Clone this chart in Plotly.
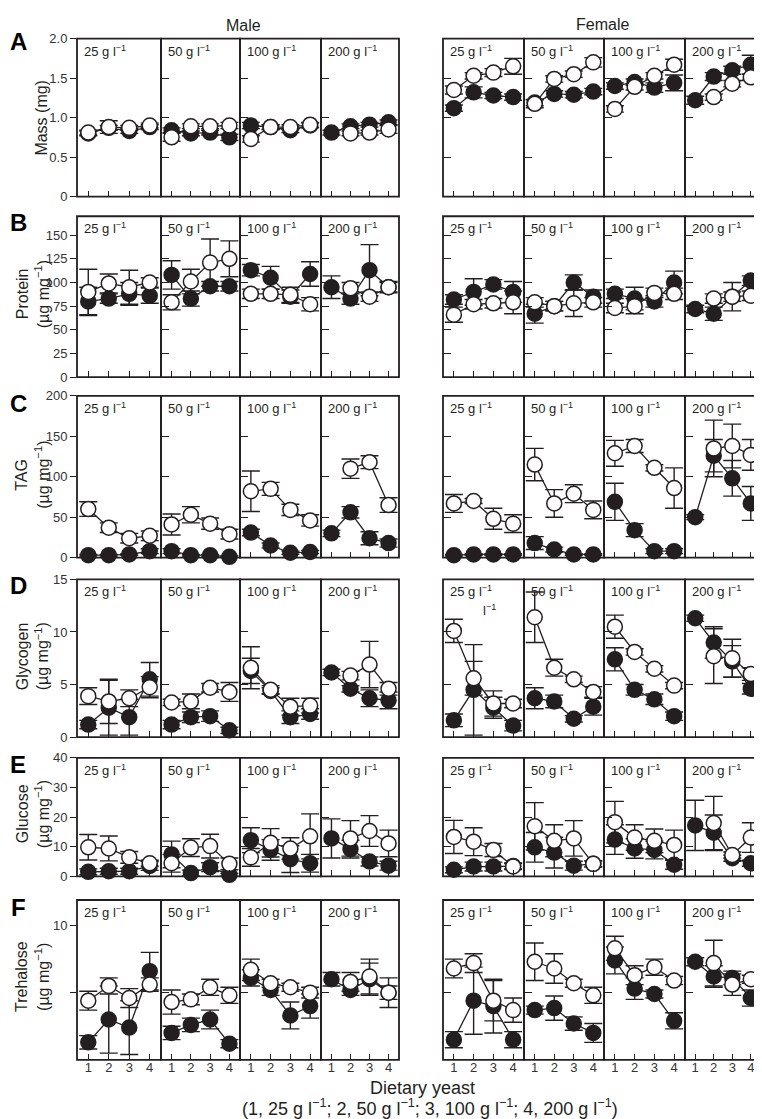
import plotly.graph_objects as go

W, H = 762, 1119
diet = [1, 2, 3, 4]
concs = ["25", "50", "100", "200"]
xtick_labels = ["1", "2", "3", "4"]

# ---------------- Row A: Mass (mg) ----------------
mass_m_filled = [[0.80, 0.87, 0.83, 0.88], [0.84, 0.80, 0.81, 0.75], [0.90, 0.88, 0.84, 0.90], [0.81, 0.89, 0.91, 0.94]]
mass_m_filled_err = [[0.03, 0.03, 0.03, 0.03], [0.03, 0.03, 0.03, 0.04], [0.04, 0.03, 0.03, 0.03], [0.03, 0.03, 0.03, 0.03]]
mass_m_open = [[0.81, 0.88, 0.87, 0.90], [0.75, 0.89, 0.89, 0.90], [0.73, 0.88, 0.88, 0.91], [None, 0.80, 0.81, 0.85]]
mass_m_open_err = [[0.03, 0.08, 0.03, 0.03], [0.05, 0.03, 0.03, 0.04], [0.04, 0.03, 0.03, 0.03], [0, 0.03, 0.03, 0.05]]
mass_f_filled = [[1.12, 1.32, 1.28, 1.26], [1.19, 1.30, 1.29, 1.33], [1.40, 1.45, 1.38, 1.44], [1.22, 1.52, 1.60, 1.67]]
mass_f_filled_err = [[0.04, 0.07, 0.04, 0.04], [0.04, 0.04, 0.04, 0.04], [0.04, 0.04, 0.06, 0.10], [0.05, 0.05, 0.05, 0.12]]
mass_f_open = [[1.35, 1.53, 1.57, 1.65], [1.175, 1.49, 1.55, 1.70], [1.11, 1.39, 1.53, 1.67], [None, 1.26, 1.43, 1.51]]
mass_f_open_err = [[0.05, 0.04, 0.05, 0.10], [0.05, 0.04, 0.04, 0.06], [0.04, 0.04, 0.04, 0.07], [0, 0.04, 0.04, 0.04]]

# ---------------- Row B: Protein ----------------
prot_m_filled = [[80, 83, 88, 86], [108, 83, 96, 96], [113, 105, 85, 109], [95, 83, 113, 95]]
prot_m_filled_err = [[15, 5, 12, 8], [15, 8, 5, 5], [6, 12, 7, 13], [12, 6, 27, 5]]
prot_m_open = [[90, 99, 95, 100], [79, 101, 121, 125], [88, 88, 87, 77], [None, 94, 85, 95]]
prot_m_open_err = [[24, 10, 18, 5], [8, 13, 25, 19], [5, 5, 8, 7], [0, 6, 5, 6]]
prot_f_filled = [[82, 90, 98, 90], [67, 75, 100, 85], [88, 83, 80, 100], [72, 67, 85, 102]]
prot_f_filled_err = [[5, 14, 5, 11], [10, 5, 8, 7], [5, 12, 6, 12], [4, 7, 5, 5]]
prot_f_open = [[66, 77, 78, 79], [79, 75, 78, 79], [73, 75, 89, 88], [None, 83, 85, 86]]
prot_f_open_err = [[8, 5, 5, 12], [5, 5, 14, 5], [5, 8, 5, 6], [0, 5, 15, 5]]

# ---------------- Row C: TAG ----------------
tag_m_filled = [[3, 3, 4, 8], [8, 3, 3, 1], [31, 15, 6, 7], [30, 56, 24, 18]]
tag_m_filled_err = [[1, 1, 1, 3], [3, 1, 1, 1], [4, 3, 2, 2], [4, 7, 8, 5]]
tag_m_open = [[60, 37, 24, 27], [41, 53, 42, 29], [82, 85, 59, 46], [None, 110, 118, 65]]
tag_m_open_err = [[9, 6, 6, 6], [13, 10, 7, 6], [25, 8, 7, 7], [0, 12, 8, 9]]
tag_f_filled = [[3, 4, 4, 4], [18, 10, 4, 4], [69, 34, 8, 8], [50, 126, 98, 67]]
tag_f_filled_err = [[1, 1, 1, 1], [8, 3, 1, 1], [23, 8, 3, 3], [3, 20, 22, 21]]
tag_f_open = [[67, 70, 48, 42], [115, 67, 79, 59], [129, 138, 111, 86], [None, 135, 138, 127]]
tag_f_open_err = [[11, 3, 13, 11], [20, 17, 11, 11], [16, 8, 4, 25], [0, 35, 27, 19]]

# ---------------- Row D: Glycogen ----------------
gly_m_filled = [[1.2, 2.8, 1.9, 5.5], [1.2, 1.9, 2.0, 0.65], [6.3, 4.4, 1.9, 2.2], [6.15, 4.6, 3.7, 3.5]]
gly_m_filled_err = [[0.4, 2.6, 1.7, 1.6], [0.4, 0.5, 0.5, 0.3], [1.2, 0.3, 0.6, 0.5], [0.3, 0.3, 0.8, 0.8]]
gly_m_open = [[3.9, 3.4, 3.7, 4.75], [3.3, 3.4, 4.7, 4.3], [6.6, 4.5, 2.9, 3.0], [None, 5.85, 6.9, 4.6]]
gly_m_open_err = [[0.8, 2.1, 0.8, 1.0], [0.3, 0.7, 0.4, 0.9], [2.0, 0.4, 0.8, 0.7], [0, 0.4, 2.2, 0.6]]
gly_f_filled = [[1.6, 4.5, 2.8, 1.1], [3.7, 3.4, 1.75, 2.9], [7.4, 4.5, 3.6, 2.0], [11.3, 9.0, 7.2, 4.6]]
gly_f_filled_err = [[0.6, 4.3, 1.0, 0.5], [1.0, 0.6, 0.3, 0.8], [1.1, 0.5, 0.5, 0.4], [0.3, 1.5, 1.5, 0.5]]
gly_f_open = [[10.1, 5.6, 3.2, 3.2], [11.4, 6.6, 5.5, 4.3], [10.5, 8.1, 6.5, 4.9], [None, 7.7, 7.5, 6.0]]
gly_f_open_err = [[1.1, 1.6, 1.2, 0.4], [2.4, 0.8, 0.3, 0.5], [1.1, 0.3, 0.3, 0.3], [0, 2.6, 1.8, 0.6]]

# ---------------- Row E: Glucose ----------------
glu_m_filled = [[1.5, 1.7, 1.7, 3.5], [7.4, 1.1, 3.1, 0.5], [12.2, 8.9, 5.8, 4.4], [12.8, 9.2, 5.0, 3.6]]
glu_m_filled_err = [[1, 1, 1, 1.5], [4.5, 1, 1.5, 0.5], [4.2, 3.5, 4.5, 3], [6.6, 3, 1.5, 1.5]]
glu_m_open = [[9.8, 9.4, 6.4, 4.4], [4.4, 9.7, 10.2, 4.2], [6.4, 11.3, 9.4, 13.5], [None, 12.8, 15.3, 11.1]]
glu_m_open_err = [[4.3, 4.2, 2.0, 1.0], [3.0, 3.0, 4.0, 2.0], [3.0, 4.8, 3.6, 7.6], [0, 6.0, 5.2, 4.5]]
glu_f_filled = [[2.2, 3.3, 3.3, 3.5], [9.8, 8.0, 3.6, 4.2], [12.4, 9.4, 8.9, 3.9], [17.2, 14.7, 6.1, 4.4]]
glu_f_filled_err = [[1, 1.5, 1.5, 1], [5, 5.2, 1.5, 1], [5, 3.3, 3, 1.5], [8.5, 6, 1, 1]]
glu_f_open = [[13.3, 11.7, 8.9, 3.3], [16.9, 12.0, 12.8, 4.2], [18.3, 13.1, 12.0, 10.6], [None, 18.0, 7.2, 13.1]]
glu_f_open_err = [[5.6, 4.7, 2.2, 1.0], [8.0, 5.4, 6.0, 1.0], [7.0, 4.3, 4.0, 5.0], [0, 9.0, 1.0, 5.0]]

# ---------------- Row F: Trehalose ----------------
tre_m_filled = [[1.3, 3.0, 2.4, 6.6], [2.0, 2.6, 3.0, 1.2], [6.1, 5.2, 3.3, 4.0], [6.0, 5.2, 6.0, 5.0]]
tre_m_filled_err = [[0.5, 2.5, 2.0, 1.4], [0.5, 0.5, 0.7, 0.3], [0.6, 0.4, 1.0, 0.9], [0.5, 0.4, 1.2, 0.5]]
tre_m_open = [[4.4, 5.5, 4.6, 5.6], [4.3, 4.5, 5.4, 4.8], [6.7, 5.7, 5.4, 5.0], [None, 5.8, 6.2, 5.0]]
tre_m_open_err = [[0.7, 0.6, 0.7, 0.5], [0.9, 0.4, 0.6, 0.6], [0.8, 0.3, 0.3, 0.4], [0, 0.7, 1.3, 1.1]]
tre_f_filled = [[1.5, 4.4, 4.0, 1.5], [3.7, 3.85, 2.7, 2.0], [7.4, 5.3, 4.9, 2.9], [7.3, 6.2, 6.1, 4.6]]
tre_f_filled_err = [[0.6, 2.5, 2.0, 0.6], [0.3, 0.9, 0.5, 0.7], [1.0, 0.8, 0.3, 0.6], [0.3, 0.8, 0.5, 0.6]]
tre_f_open = [[6.8, 7.2, 4.4, 3.7], [7.3, 6.8, 5.7, 4.8], [8.3, 6.3, 6.9, 5.9], [None, 7.2, 5.6, 6.0]]
tre_f_open_err = [[0.7, 0.7, 1.5, 0.9], [1.4, 1.1, 0.3, 0.6], [0.9, 0.7, 0.6, 0.3], [0, 1.7, 0.8, 0.3]]

row_letters = ["A", "B", "C", "D", "E", "F"]
row_title1 = ["Mass (mg)", "Protein", "TAG", "Glycogen", "Glucose", "Trehalose"]
row_title2 = [None, "(µg mg<sup>−1</sup>)", "(µg mg<sup>−1</sup>)", "(µg mg<sup>−1</sup>)",
              "(µg mg<sup>−1</sup>)", "(µg mg<sup>−1</sup>)"]
y_ranges = [[0, 2], [0, 170], [0, 200], [0, 15], [0, 40], [0, 11.9]]
y_tickvals = [[0, 0.5, 1, 1.5, 2], [0, 25, 50, 75, 100, 125, 150], [0, 50, 100, 150, 200],
              [0, 5, 10, 15], [0, 10, 20, 30, 40], [5, 10]]
y_ticktext = [["0", "0.5", "1.0", "1.5", "2.0"], ["0", "25", "50", "75", "100", "125", "150"],
              ["0", "50", "100", "150", "200"], ["0", "5", "10", "15"], ["0", "10", "20", "30", "40"],
              ["", "10"]]

rows_data = [
    (mass_m_filled, mass_m_filled_err, mass_m_open, mass_m_open_err,
     mass_f_filled, mass_f_filled_err, mass_f_open, mass_f_open_err),
    (prot_m_filled, prot_m_filled_err, prot_m_open, prot_m_open_err,
     prot_f_filled, prot_f_filled_err, prot_f_open, prot_f_open_err),
    (tag_m_filled, tag_m_filled_err, tag_m_open, tag_m_open_err,
     tag_f_filled, tag_f_filled_err, tag_f_open, tag_f_open_err),
    (gly_m_filled, gly_m_filled_err, gly_m_open, gly_m_open_err,
     gly_f_filled, gly_f_filled_err, gly_f_open, gly_f_open_err),
    (glu_m_filled, glu_m_filled_err, glu_m_open, glu_m_open_err,
     glu_f_filled, glu_f_filled_err, glu_f_open, glu_f_open_err),
    (tre_m_filled, tre_m_filled_err, tre_m_open, tre_m_open_err,
     tre_f_filled, tre_f_filled_err, tre_f_open, tre_f_open_err),
]

# ---------------- layout geometry (pixels) ----------------
male_x = [(69, 153), (153, 232), (232, 313), (313, 391)]
female_x = [(435, 516), (516, 596), (596, 677), (677, 753)]
row_y = [(24, 184), (204, 367), (386, 550), (572, 732), (753, 873), (897, 1059)]
title_cy = [104, 283, 466, 650, 810, 975]
letter_cy = [27, 210, 394, 578, 760, 905]

INK = "#231f20"
FONT = "Liberation Sans, Arial, sans-serif"


def px(xp):
    return xp / W


def py(yp):
    return 1 - yp / H


fig = go.Figure()
layout = {}
annotations = []
shapes = []
n = 0
for r in range(6):
    mf, mfe, mo, moe, ff, ffe, fo, foe = rows_data[r]
    for sex, xs, fil, file, opn, opne in (("m", male_x, mf, mfe, mo, moe), ("f", female_x, ff, ffe, fo, foe)):
        for c in range(4):
            n += 1
            xa = "x" if n == 1 else f"x{n}"
            ya = "y" if n == 1 else f"y{n}"
            xl = "xaxis" if n == 1 else f"xaxis{n}"
            yl = "yaxis" if n == 1 else f"yaxis{n}"
            first = (sex == "m" and c == 0)
            bottom = (r == 5)
            layout[xl] = dict(
                domain=[px(xs[c][0]), px(xs[c][1])], anchor=ya, range=[0.45, 4.55],
                tickvals=diet, ticktext=xtick_labels, showticklabels=bottom,
                ticks="inside", ticklen=6, tickwidth=1.3, tickcolor=INK,
                ticklabelstandoff=-2,
                showline=False, showgrid=False, zeroline=False, fixedrange=True,
                tickfont=dict(family=FONT, size=13, color="#333333"),
            )
            layout[yl] = dict(
                domain=[py(row_y[r][1]), py(row_y[r][0])], anchor=xa, range=y_ranges[r],
                tickvals=y_tickvals[r], ticktext=y_ticktext[r], showticklabels=first,
                ticks="outside" if first else "inside", ticklen=6 if first else 8,
                tickwidth=1.3, tickcolor=INK,
                showline=False, showgrid=False, zeroline=False, fixedrange=True,
                tickfont=dict(family=FONT, size=13, color="#333333"),
            )
            shapes.append(dict(type="rect", xref=f"{xa} domain", yref=f"{ya} domain",
                               x0=0, x1=1, y0=0, y1=1, layer="below",
                               line=dict(color=INK, width=1.8), fillcolor="rgba(0,0,0,0)"))
            for vals, errs, fillc in ((fil, file, INK), (opn, opne, "white")):
                fig.add_trace(go.Scatter(
                    x=diet, y=vals[c], xaxis=xa, yaxis=ya, mode="lines+markers",
                    line=dict(color=INK, width=1.3),
                    marker=dict(size=15, color=fillc, line=dict(color=INK, width=1.5)),
                    error_y=dict(type="data", array=errs[c], symmetric=True,
                                 color=INK, thickness=1.4, width=9),
                    cliponaxis=False, showlegend=False, hoverinfo="skip",
                ))
            annotations.append(dict(
                x=px(xs[c][0] + 5), y=py(row_y[r][0] + 2), xref="paper", yref="paper",
                xanchor="left", yanchor="top", showarrow=False,
                text=f"{concs[c]} g l<sup>−1</sup>",
                font=dict(family=FONT, size=13, color=INK),
            ))
    # row letter
    annotations.append(dict(x=px(10), y=py(letter_cy[r]), xref="paper", yref="paper",
                            xanchor="center", yanchor="middle", showarrow=False,
                            text=f"<b>{row_letters[r]}</b>",
                            font=dict(family=FONT, size=24, color="black")))
    # y titles
    if row_title2[r] is None:
        annotations.append(dict(x=px(34), y=py(title_cy[r]), xref="paper", yref="paper",
                                xanchor="center", yanchor="middle", showarrow=False,
                                text=row_title1[r], textangle=-90,
                                font=dict(family=FONT, size=16, color=INK)))
    else:
        annotations.append(dict(x=px(14), y=py(title_cy[r]), xref="paper", yref="paper",
                                xanchor="center", yanchor="middle", showarrow=False,
                                text=row_title1[r], textangle=-90,
                                font=dict(family=FONT, size=16, color=INK)))
        annotations.append(dict(x=px(34), y=py(title_cy[r]), xref="paper", yref="paper",
                                xanchor="center", yanchor="middle", showarrow=False,
                                text=row_title2[r], textangle=-90,
                                font=dict(family=FONT, size=16, color=INK)))

# headers
annotations.append(dict(x=px(235), y=py(11), xref="paper", yref="paper", showarrow=False,
                        xanchor="center", yanchor="middle", text="Male",
                        font=dict(family=FONT, size=16, color=INK)))
annotations.append(dict(x=px(594), y=py(10), xref="paper", yref="paper", showarrow=False,
                        xanchor="center", yanchor="middle", text="Female",
                        font=dict(family=FONT, size=16, color=INK)))
# stray label inside female glycogen 25 panel
annotations.append(dict(x=px(482), y=py(603), xref="paper", yref="paper", showarrow=False,
                        xanchor="center", yanchor="middle", text="l<sup>−1</sup>",
                        font=dict(family=FONT, size=13, color=INK)))
# x title
annotations.append(dict(x=px(414), y=py(1088), xref="paper", yref="paper", showarrow=False,
                        xanchor="center", yanchor="middle", text="Dietary yeast",
                        font=dict(family=FONT, size=18, color=INK)))
annotations.append(dict(x=px(422), y=py(1107), xref="paper", yref="paper", showarrow=False,
                        xanchor="center", yanchor="middle",
                        text="(1, 25 g l<sup>−1</sup>; 2, 50 g l<sup>−1</sup>; 3, 100 g l<sup>−1</sup>; 4, 200 g l<sup>−1</sup>)",
                        font=dict(family=FONT, size=18, color=INK)))

fig.update_layout(
    width=W, height=H, margin=dict(l=0, r=0, t=0, b=0),
    paper_bgcolor="white", plot_bgcolor="rgba(0,0,0,0)",
    annotations=annotations, shapes=shapes, showlegend=False,
    **layout,
)
fig.write_html("out.html")
